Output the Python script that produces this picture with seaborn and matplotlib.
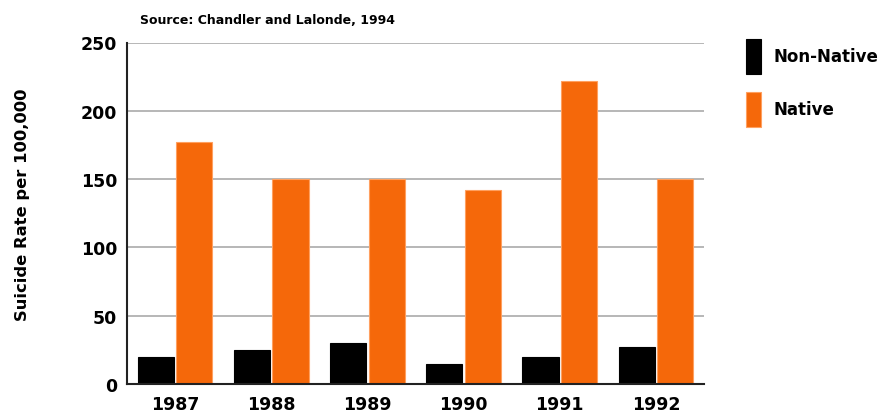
import matplotlib
matplotlib.use("Agg")
import matplotlib.pyplot as plt
import seaborn as sns
import pandas as pd
from matplotlib.ticker import FixedLocator

years = ["1987", "1988", "1989", "1990", "1991", "1992"]
non_native = [20, 25, 30, 15, 20, 27]
native = [177, 150, 150, 142, 222, 150]
series = ["Non-Native", "Native"]
colors = ["#000000", "#F5680A"]

df = pd.DataFrame({
    "Year": years * 2,
    "Rate": non_native + native,
    "Group": [series[0]] * len(years) + [series[1]] * len(years),
})

sns.set_theme(style="white")
plt.rcParams["font.family"] = ["DejaVu Sans"]
plt.rcParams["text.color"] = "black"
plt.rcParams["xtick.color"] = "black"
plt.rcParams["ytick.color"] = "black"
plt.rcParams["axes.labelcolor"] = "black"

fig = plt.figure(figsize=(8.85, 4.14), dpi=100)
ax = fig.add_axes([127 / 885, 1 - 385 / 414, (704 - 127) / 885, (385 - 43.5) / 414])

sns.barplot(data=df, x="Year", y="Rate", hue="Group", hue_order=series,
            palette=colors, width=0.8, gap=0.06, ax=ax, saturation=1)

for patch in ax.patches:
    fc = patch.get_facecolor()
    if fc[0] > 0.5:
        patch.set_edgecolor("#FFA060")
    else:
        patch.set_edgecolor("#000000")
    patch.set_linewidth(0.8)

ax.set_ylim(0, 250)
ax.set_xlim(-0.5, 5.5)
ax.set_yticks([0, 50, 100, 150, 200, 250])
ax.yaxis.grid(True, color="#AAAAAA", linewidth=1.2)
ax.set_axisbelow(True)

for s in ["top", "right"]:
    ax.spines[s].set_visible(False)
for s in ["left", "bottom"]:
    ax.spines[s].set_color("#222222")
    ax.spines[s].set_linewidth(1.5)

ax.tick_params(axis="x", which="major", length=0, pad=8, labelsize=12.5, labelcolor="black")
ax.tick_params(axis="y", which="major", length=0, pad=7, labelsize=12.5, labelcolor="black")
for lab in ax.get_xticklabels() + ax.get_yticklabels():
    lab.set_fontweight("bold")
ax.xaxis.set_minor_locator(FixedLocator([0.5, 1.5, 2.5, 3.5, 4.5, 5.5]))
ax.tick_params(axis="x", which="minor", direction="in", length=7, width=1.5, color="#222222")

ax.set_xlabel("")
ax.set_ylabel("")
fig.text(23 / 885, 1 - 205 / 414, "Suicide Rate per 100,000", rotation=90,
         fontsize=11.8, fontweight="bold", ha="center", va="center", color="black")

fig.text(140 / 885, 1 - 20 / 414, "Source: Chandler and Lalonde, 1994",
         fontsize=9, fontweight="bold", va="center", ha="left", color="black")

handles, labels = ax.get_legend_handles_labels()
ax.legend_.remove()
leg = fig.legend(handles, labels, loc="upper left",
                 bbox_to_anchor=(746 / 885, 1 - 40 / 414),
                 frameon=False, fontsize=12, borderpad=0, borderaxespad=0,
                 handlelength=0.9, handleheight=2.85, labelspacing=1.08,
                 handletextpad=0.75)
for t in leg.get_texts():
    t.set_fontweight("bold")
    t.set_color("black")

fig.savefig("out.png", dpi=100)
